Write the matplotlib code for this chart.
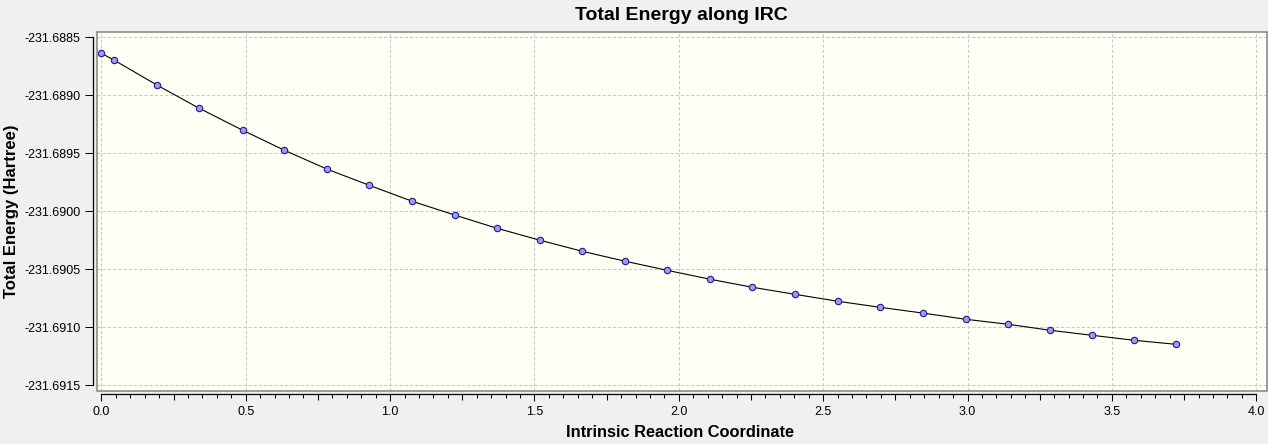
import matplotlib
matplotlib.use("Agg")
import matplotlib.pyplot as plt
from matplotlib.ticker import FixedLocator, FormatStrFormatter, MultipleLocator
from matplotlib.patches import Rectangle

plt.rcParams['axes.unicode_minus'] = False
plt.rcParams['font.family'] = ['Liberation Sans', 'DejaVu Sans']

# ---- data ----
irc_coord = [0.000, 0.045, 0.194, 0.339, 0.490, 0.634, 0.783, 0.928, 1.077,
             1.226, 1.371, 1.520, 1.666, 1.815, 1.960, 2.109, 2.255, 2.403,
             2.552, 2.698, 2.847, 2.994, 3.141, 3.287, 3.432, 3.577, 3.723]
total_energy = [-231.688638, -231.688698, -231.688914, -231.689112, -231.689302,
                -231.689474, -231.689638, -231.689776, -231.689914, -231.690034,
                -231.690147, -231.690250, -231.690345, -231.690431, -231.690509,
                -231.690586, -231.690655, -231.690716, -231.690776, -231.690828,
                -231.690878, -231.690931, -231.690974, -231.691026, -231.691069,
                -231.691112, -231.691147]
x_ticks = [0.0, 0.5, 1.0, 1.5, 2.0, 2.5, 3.0, 3.5, 4.0]
y_ticks = [-231.6915, -231.6910, -231.6905, -231.6900, -231.6895, -231.6890, -231.6885]
title = "Total Energy along IRC"
xlabel = "Intrinsic Reaction Coordinate"
ylabel = "Total Energy (Hartree)"

W, H = 1268, 444
fig = plt.figure(figsize=(W / 100, H / 100), dpi=100, facecolor='#F0F0F0')
left, right, top, bottom = 96.7, 1266.7, 31.7, 391.0
ax = fig.add_axes([left / W, 1 - bottom / H, (right - left) / W, (bottom - top) / H])
ax.set_facecolor('#FFFFF6')

ax.plot(irc_coord, total_energy, color='black', lw=0.8, zorder=3,
        marker='o', markersize=4.6, markerfacecolor='#9C9CF0',
        markeredgecolor='#1C1C8C', markeredgewidth=0.8)

ax.set_xlim(-0.016, 4.036)
ax.set_ylim(-231.691549, -231.688452)

ax.xaxis.set_major_locator(FixedLocator(x_ticks))
ax.xaxis.set_major_formatter(FormatStrFormatter('%.1f'))
ax.xaxis.set_minor_locator(MultipleLocator(0.05))
ax.yaxis.set_major_locator(FixedLocator(y_ticks))
ax.yaxis.set_major_formatter(FormatStrFormatter('%.4f'))

ax.grid(True, which='major', color='#C8C8C8', lw=0.75, linestyle=(0, (3, 2)))
ax.set_axisbelow(True)

for s in ['top', 'right']:
    ax.spines[s].set_visible(False)
ax.spines['left'].set_position(('outward', 2.45))
ax.spines['bottom'].set_position(('outward', 2.4))
ax.spines['left'].set_bounds(y_ticks[0], y_ticks[-1])
ax.spines['bottom'].set_bounds(x_ticks[0], x_ticks[-1])
for s in ['left', 'bottom']:
    ax.spines[s].set_linewidth(0.9)
    ax.spines[s].set_color('black')

ax.tick_params(axis='y', which='major', direction='out', length=6, width=0.75,
               pad=3, labelsize=9, colors='black')
ax.tick_params(axis='x', which='major', direction='out', length=5, width=0.75,
               pad=3.3, labelsize=9, colors='black')
ax.tick_params(axis='x', which='minor', direction='out', length=3, width=0.75)

# medium ticks at the quarter marks
sec = ax.secondary_xaxis(-2.4 / 72 * 100 / (bottom - top))
sec.spines['bottom'].set_visible(False)
sec.set_xticks([0.25, 0.75, 1.25, 1.75, 2.25, 2.75, 3.25, 3.75])
sec.tick_params(axis='x', direction='out', length=4, width=0.75, labelbottom=False)

# plot-area border
ax.add_patch(Rectangle((0, 0), 1, 1, transform=ax.transAxes, fill=False,
                       ec='#8C8C8C', lw=1.2, clip_on=False, zorder=5))

fig.text((left + right) / 2 / W, 1 - 20 / H, title, ha='center', va='baseline',
         fontsize=14, fontweight='bold')
fig.text(680 / W, 1 - 437.3 / H, xlabel, ha='center', va='baseline',
         fontsize=11.8, fontweight='bold')
fig.text(11.7 / W, 1 - 211.3 / H, ylabel, ha='center', va='center',
         rotation=90, fontsize=12, fontweight='bold')

fig.savefig('out.png', dpi=100, facecolor=fig.get_facecolor())
